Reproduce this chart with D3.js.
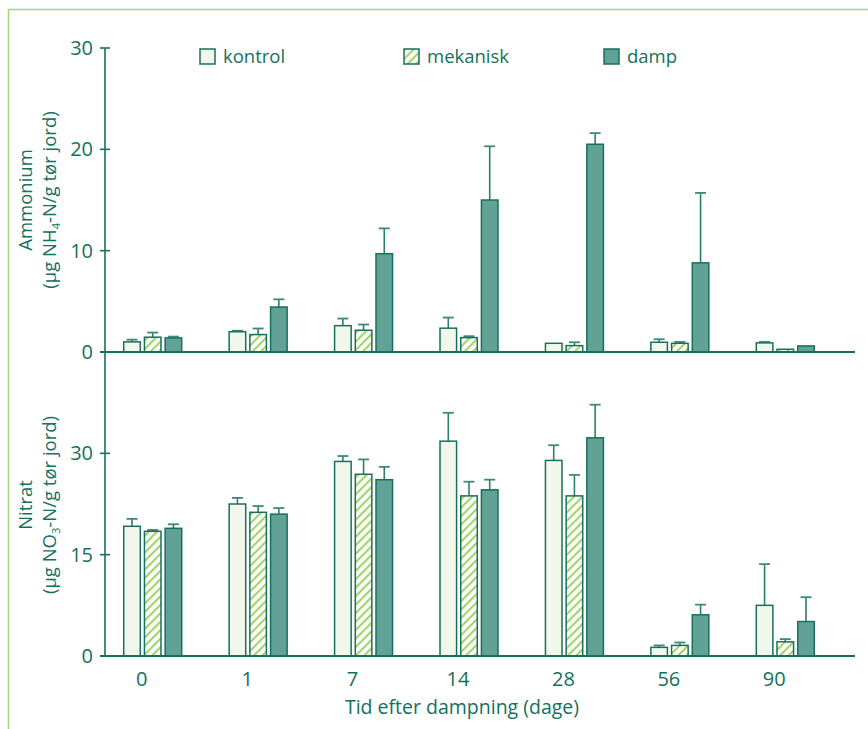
<!DOCTYPE html>
<html>
<head>
<meta charset="utf-8">
<script src="https://cdn.jsdelivr.net/npm/d3@7"></script>
<style>
  body { margin: 0; background: #fff; }
  text { font-family: "Open Sans", sans-serif; fill: #15705c; }
</style>
</head>
<body>
<svg id="main-svg" width="868" height="729"></svg>
<script>
var days = ["0", "1", "7", "14", "28", "56", "90"];
var series = ["kontrol", "mekanisk", "damp"];

// ammonium (µg NH4-N / g tør jord), mean and top of error bar
var ammKontrol    = [1.0, 2.0, 2.6, 2.35, 0.86, 0.96, 0.9];
var ammKontrolErr = [1.22, 2.1, 3.3, 3.4, 0.86, 1.26, 1.0];
var ammMekanisk    = [1.46, 1.72, 2.15, 1.42, 0.63, 0.86, 0.27];
var ammMekaniskErr = [1.92, 2.32, 2.71, 1.56, 0.96, 1.0, 0.27];
var ammDamp    = [1.39, 4.44, 9.7, 15.0, 20.5, 8.8, 0.6];
var ammDampErr = [1.52, 5.2, 12.2, 20.3, 21.6, 15.7, 0.6];

// nitrat (µg NO3-N / g tør jord)
var nitKontrol    = [19.2, 22.5, 28.8, 31.8, 28.95, 1.28, 7.5];
var nitKontrolErr = [20.3, 23.4, 29.6, 36.0, 31.2, 1.57, 13.6];
var nitMekanisk    = [18.46, 21.27, 26.9, 23.7, 23.7, 1.57, 2.1];
var nitMekaniskErr = [18.66, 22.2, 29.1, 25.8, 26.8, 2.0, 2.5];
var nitDamp    = [18.9, 21.0, 26.1, 24.6, 32.3, 6.1, 5.1];
var nitDampErr = [19.5, 21.9, 28.0, 26.1, 37.2, 7.6, 8.7];

var ammTicks = [0, 10, 20, 30];
var nitTicks = [0, 15, 30];

var teal = "#17705e";
var fills = { kontrol: "#f2f7ec", mekanisk: "url(#hatch)", damp: "#62a195" };

var svg = d3.select("#main-svg");

var defs = svg.append("defs");
var hatch = defs.append("pattern").attr("id", "hatch")
    .attr("patternUnits", "userSpaceOnUse")
    .attr("width", 6).attr("height", 6)
    .attr("patternTransform", "rotate(45)");
hatch.append("rect").attr("width", 6).attr("height", 6).attr("fill", "#fff");
hatch.append("rect").attr("width", 2.2).attr("height", 6).attr("fill", "#a5d46e");

// frame
svg.append("rect").attr("x", 8.5).attr("y", 9.5).attr("width", 900).attr("height", 800)
   .attr("fill", "none").attr("stroke", "#a9d384").attr("stroke-width", 1.5);

var x0 = d3.scaleBand().domain(days).range([100, 838]).paddingInner(0.45).paddingOuter(0.225);
var x1 = d3.scaleBand().domain(series).range([0, x0.bandwidth()]).paddingInner(0.2);

var yAmm = d3.scaleLinear().domain([0, 30]).range([352, 48]);
var yNit = d3.scaleLinear().domain([0, 45]).range([656, 352]);

function panel(y, ticks, vals, errs) {
  var g = svg.append("g");

  var rows = days.map(function(d, i) {
    return series.map(function(s) { return { day: d, s: s, v: vals[s][i], e: errs[s][i] }; });
  });
  var flat = [].concat.apply([], rows);

  // error bars
  var eb = g.selectAll(".err").data(flat.filter(function(d){ return d.e > d.v + 0.05; })).enter().append("g");
  eb.append("line")
    .attr("x1", function(d){ return x0(d.day) + x1(d.s) + x1.bandwidth()/2; })
    .attr("x2", function(d){ return x0(d.day) + x1(d.s) + x1.bandwidth()/2; })
    .attr("y1", function(d){ return y(d.v); })
    .attr("y2", function(d){ return y(d.e); })
    .attr("stroke", "#2b7f6c").attr("stroke-width", 1.6);
  eb.append("line")
    .attr("x1", function(d){ return x0(d.day) + x1(d.s) + x1.bandwidth()/2 - 5.5; })
    .attr("x2", function(d){ return x0(d.day) + x1(d.s) + x1.bandwidth()/2 + 5.5; })
    .attr("y1", function(d){ return y(d.e); })
    .attr("y2", function(d){ return y(d.e); })
    .attr("stroke", "#3d8a78").attr("stroke-width", 1.8);

  g.selectAll(".bar").data(flat).enter().append("rect")
    .attr("x", function(d){ return x0(d.day) + x1(d.s); })
    .attr("y", function(d){ return y(d.v); })
    .attr("width", x1.bandwidth())
    .attr("height", function(d){ return y(0) - y(d.v); })
    .attr("fill", function(d){ return fills[d.s]; })
    .attr("stroke", teal).attr("stroke-width", 1.5);

  // baseline
  g.append("line").attr("x1", 100).attr("x2", 855)
    .attr("y1", y(0)).attr("y2", y(0))
    .attr("stroke", teal).attr("stroke-width", 1.8);

  // y axis
  g.append("line").attr("x1", 105).attr("x2", 105)
    .attr("y1", y(0)).attr("y2", y(y.domain()[1]))
    .attr("stroke", teal).attr("stroke-width", 1.6);
  g.selectAll(".tick").data(ticks).enter().append("line")
    .attr("x1", 100).attr("x2", 110)
    .attr("y1", function(d){ return y(d); }).attr("y2", function(d){ return y(d); })
    .attr("stroke", teal).attr("stroke-width", 1.6);
  g.selectAll(".tl").data(ticks).enter().append("text")
    .attr("x", 93).attr("y", function(d){ return y(d) + 7; })
    .attr("text-anchor", "end").attr("font-size", 20)
    .text(function(d){ return d; });
}

panel(yAmm, ammTicks,
  { kontrol: ammKontrol, mekanisk: ammMekanisk, damp: ammDamp },
  { kontrol: ammKontrolErr, mekanisk: ammMekaniskErr, damp: ammDampErr });
panel(yNit, nitTicks,
  { kontrol: nitKontrol, mekanisk: nitMekanisk, damp: nitDamp },
  { kontrol: nitKontrolErr, mekanisk: nitMekaniskErr, damp: nitDampErr });

// x labels
svg.selectAll(".xl").data(days).enter().append("text")
  .attr("x", function(d){ return x0(d) + 18; })
  .attr("y", 686).attr("text-anchor", "middle").attr("font-size", 20)
  .text(function(d){ return d; });
svg.append("text").attr("x", 462).attr("y", 714).attr("text-anchor", "middle")
  .attr("font-size", 19.5).text("Tid efter dampning (dage)");

// y titles
function yTitle(cy, name, chem, sub) {
  var g = svg.append("g").attr("transform", "translate(0," + cy + ") rotate(-90)");
  g.append("text").attr("x", 0).attr("y", 32).attr("text-anchor", "middle")
    .attr("font-size", 18.5).text(name);
  var t = g.append("text").attr("x", 0).attr("y", 56).attr("text-anchor", "middle").attr("font-size", 18.5);
  t.append("tspan").text("(µg " + chem);
  t.append("tspan").attr("font-size", 11).attr("dy", 4).text(sub);
  t.append("tspan").attr("dy", -4).text("-N/g tør jord)");
}
yTitle(200, "Ammonium", "NH", "4");
yTitle(505, "Nitrat", "NO", "3");

// legend
var legX = [200, 404, 604];
var leg = svg.selectAll(".leg").data(series).enter().append("g")
  .attr("transform", function(d, i){ return "translate(" + legX[i] + ",49)"; });
leg.append("rect").attr("width", 15).attr("height", 15)
  .attr("fill", function(d){ return fills[d]; })
  .attr("stroke", teal).attr("stroke-width", 1.5);
leg.append("text").attr("x", 23).attr("y", 14).attr("font-size", 18.5)
  .text(function(d){ return d; });
</script>
</body>
</html>
